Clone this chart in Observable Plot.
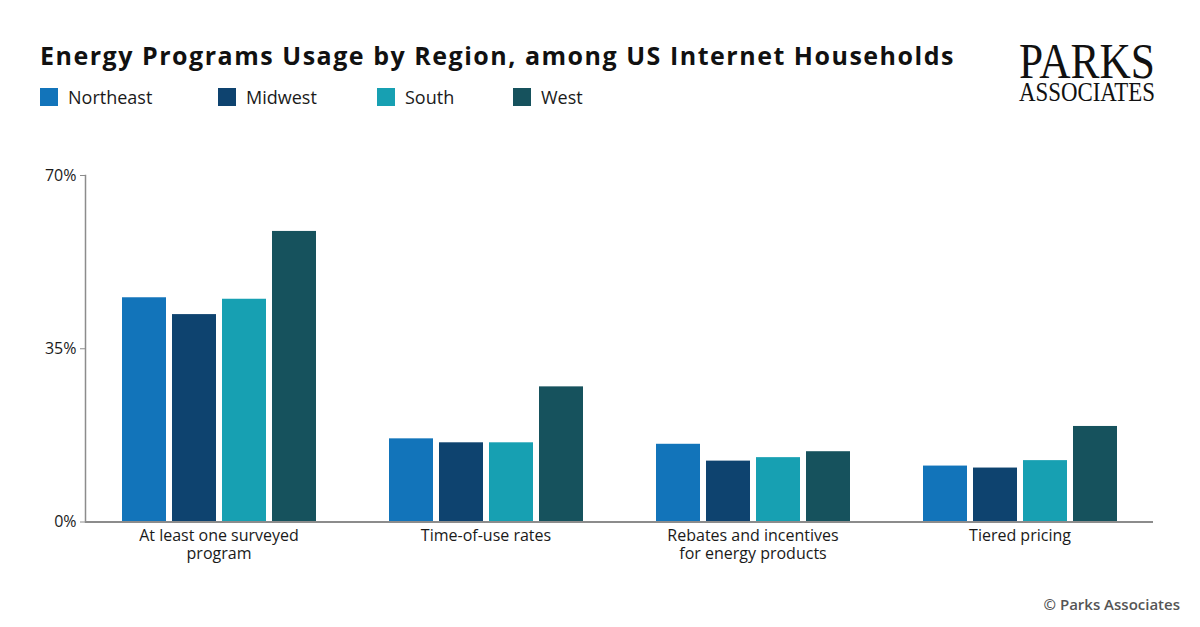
<!DOCTYPE html>
<html>
<head>
<meta charset="utf-8">
<script src="https://cdn.jsdelivr.net/npm/d3@7"></script>
<script src="https://cdn.jsdelivr.net/npm/@observablehq/plot@0.6"></script>
<style>
  html, body { margin:0; padding:0; background:#fff; }
  body { width:1200px; height:627px; overflow:hidden; position:relative; font-family:"Open Sans",sans-serif; color:#1a1a1a; }
  #header { position:relative; height:140px; }
  #title { position:absolute; left:40px; top:38px; font-size:25px; font-weight:700; color:#111; white-space:nowrap; line-height:34px; }
  #legend { position:absolute; left:40px; top:86px; height:22px; }
  .item { position:absolute; top:0; display:flex; align-items:center; font-size:18px; color:#1a1a1a; white-space:nowrap; line-height:22px; }
  .sw { width:18px; height:18px; margin-right:10px; }
  #logo { position:absolute; left:1018px; top:30px; }
  #caption { position:absolute; right:20px; top:594px; font-size:15px; font-weight:600; color:#555; }
</style>
</head>
<body>
<div id="header">
  <div id="title">Energy Programs Usage by Region, among US Internet Households</div>
  <div id="legend"></div>
  <svg id="logo" width="182" height="92">
    <text x="1" y="48" font-family="Liberation Serif" font-size="50" textLength="136" lengthAdjust="spacingAndGlyphs" fill="#111">PARKS</text>
    <text x="1" y="71" font-family="Liberation Serif" font-size="28" textLength="136" lengthAdjust="spacingAndGlyphs" fill="#111">ASSOCIATES</text>
  </svg>
</div>
<div id="chart"></div>
<div id="caption">© Parks Associates</div>
<script>
const categories = ["At least one surveyed program", "Time-of-use rates", "Rebates and incentives for energy products", "Tiered pricing"];
const categoryLabels = ["At least one surveyed\nprogram", "Time-of-use rates", "Rebates and incentives\nfor energy products", "Tiered pricing"];
const regions = ["Northeast", "Midwest", "South", "West"];
const regionColors = ["#1274BA", "#0E436F", "#17A0B2", "#16525D"];
const northeast = [45.3, 16.8, 15.7, 11.3];
const midwest = [41.9, 16.0, 12.3, 10.9];
const south = [45.0, 16.0, 13.0, 12.4];
const west = [58.7, 27.3, 14.2, 19.3];
const yTicks = [0, 35, 70];

const series = [northeast, midwest, south, west];
const data = [];
categories.forEach((c, i) => regions.forEach((r, j) => data.push({category: c, region: r, value: series[j][i]})));

// title fit to reference width
const title = document.getElementById("title");
const tw = title.getBoundingClientRect().width;
const targetW = 915;
title.style.letterSpacing = ((targetW - tw) / title.textContent.length) + "px";

// legend
const legendX = [0, 178, 337, 473];
const legend = document.getElementById("legend");
regions.forEach((r, i) => {
  const d = document.createElement("div");
  d.className = "item";
  d.style.left = legendX[i] + "px";
  d.innerHTML = `<span class="sw" style="background:${regionColors[i]}"></span><span>${r}</span>`;
  legend.appendChild(d);
});

const chart = Plot.plot({
  width: 1200,
  height: 487,
  marginTop: 35,
  marginBottom: 105.5,
  marginLeft: 83,
  marginRight: 46,
  style: {fontFamily: "'Open Sans', sans-serif", fontSize: "16px", color: "#1a1a1a", background: "#fff"},
  fx: {domain: categories, padding: 0, label: null},
  x: {domain: regions, paddingInner: 0.13, paddingOuter: 0.725, axis: null},
  y: {domain: [0, 70], axis: null},
  color: {domain: regions, range: regionColors},
  marks: [
    Plot.barY(data, {fx: "category", x: "region", y: "value", fill: "region"}),
    Plot.frame({anchor: "left", facetAnchor: "left", stroke: "#8c8c8c", strokeWidth: 1.5}),
    Plot.ruleY([0], {stroke: "#8c8c8c", strokeWidth: 2}),
    Plot.axisY({ticks: yTicks, tickFormat: d => d + "%", tickSize: 5, tickPadding: 4, stroke: "#8c8c8c", fill: "#1a1a1a", fontSize: 16, label: null}),
    Plot.axisFx({anchor: "bottom", tickSize: 0, tickPadding: 6, label: null, fontSize: 16, lineHeight: 1.15, fill: "#1a1a1a",
      tickFormat: d => categoryLabels[categories.indexOf(d)]})
  ]
});
document.getElementById("chart").appendChild(chart);
</script>
</body>
</html>
